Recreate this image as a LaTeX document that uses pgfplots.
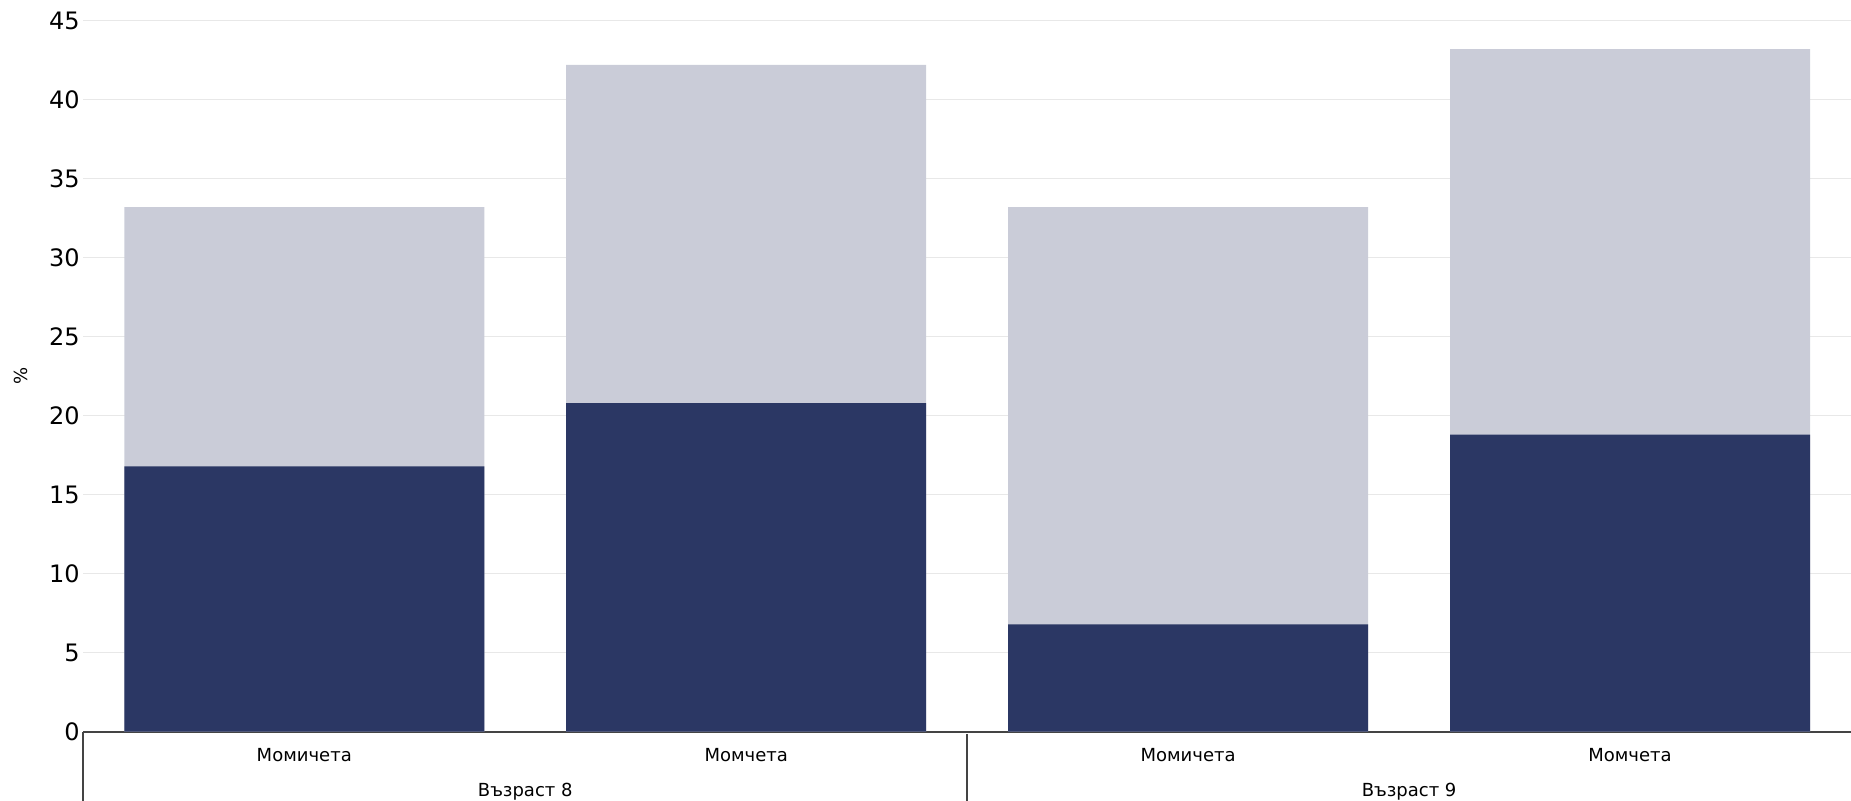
\documentclass[border=0pt]{standalone}
\usepackage{fontspec}
\setmainfont{DejaVu Sans}
\usepackage{pgfplots}
\pgfplotsset{compat=1.18}
\definecolor{darkbar}{HTML}{2B3764}
\definecolor{lightbar}{HTML}{CACCD8}
\definecolor{gridc}{HTML}{E8E8E8}
\definecolor{axisc}{HTML}{444444}
\begin{document}
\begin{tikzpicture}
\begin{axis}[
  at={(0,0)}, anchor=south west,
  scale only axis,
  width=883.85pt, height=355.5pt,
  xmin=-0.5, xmax=3.5,
  ymin=0, ymax=45,
  ytick={0,5,...,45},
  xtick={0,1,2,3},
  xticklabels={Момичета,Момчета,Момичета,Момчета},
  axis line style={draw=none},
  major tick length=0pt,
  ymajorgrids,
  grid style={draw=gridc, line width=0.65pt},
  /pgf/number format/assume math mode=true,
  yticklabel style={font=\fontsize{12}{14}\selectfont, inner sep=0pt, anchor=east, xshift=-1.65pt},
  xticklabel style={font=\fontsize{9}{11}\selectfont, inner sep=0pt, anchor=center, yshift=-11.65pt},
  ylabel={\%},
  ylabel style={at={(axis description cs:-0.0355,0.5)}, anchor=center, font=\fontsize{9}{11}\selectfont},
  clip=false,
]
\draw[axisc, line width=1pt] (axis cs:-0.5,0) -- (axis cs:3.5,0);
\addplot[ybar, bar shift=0pt, bar width=180pt, fill=lightbar, draw=none] coordinates {(0,33.2) (1,42.2) (2,33.2) (3,43.2)};
\addplot[ybar, bar shift=0pt, bar width=180pt, fill=darkbar, draw=none] coordinates {(0,16.8) (1,20.8) (2,6.8) (3,18.8)};
\draw[axisc, line width=1pt] (axis cs:-0.5,0) -- ([yshift=-34.65pt]axis cs:-0.5,0);
\draw[axisc, line width=1pt] ([yshift=-1.3pt]axis cs:1.5,0) -- ([yshift=-34.65pt]axis cs:1.5,0);
\node[font=\fontsize{9}{11}\selectfont, inner sep=0pt, anchor=center] at ([yshift=-30.15pt]axis cs:0.5,0) {Възраст 8};
\node[font=\fontsize{9}{11}\selectfont, inner sep=0pt, anchor=center] at ([yshift=-30.15pt]axis cs:2.5,0) {Възраст 9};
\end{axis}
\pgfresetboundingbox
\useasboundingbox (-41.65pt,-34.65pt) rectangle (883.85pt,365.85pt);
\end{tikzpicture}
\end{document}
